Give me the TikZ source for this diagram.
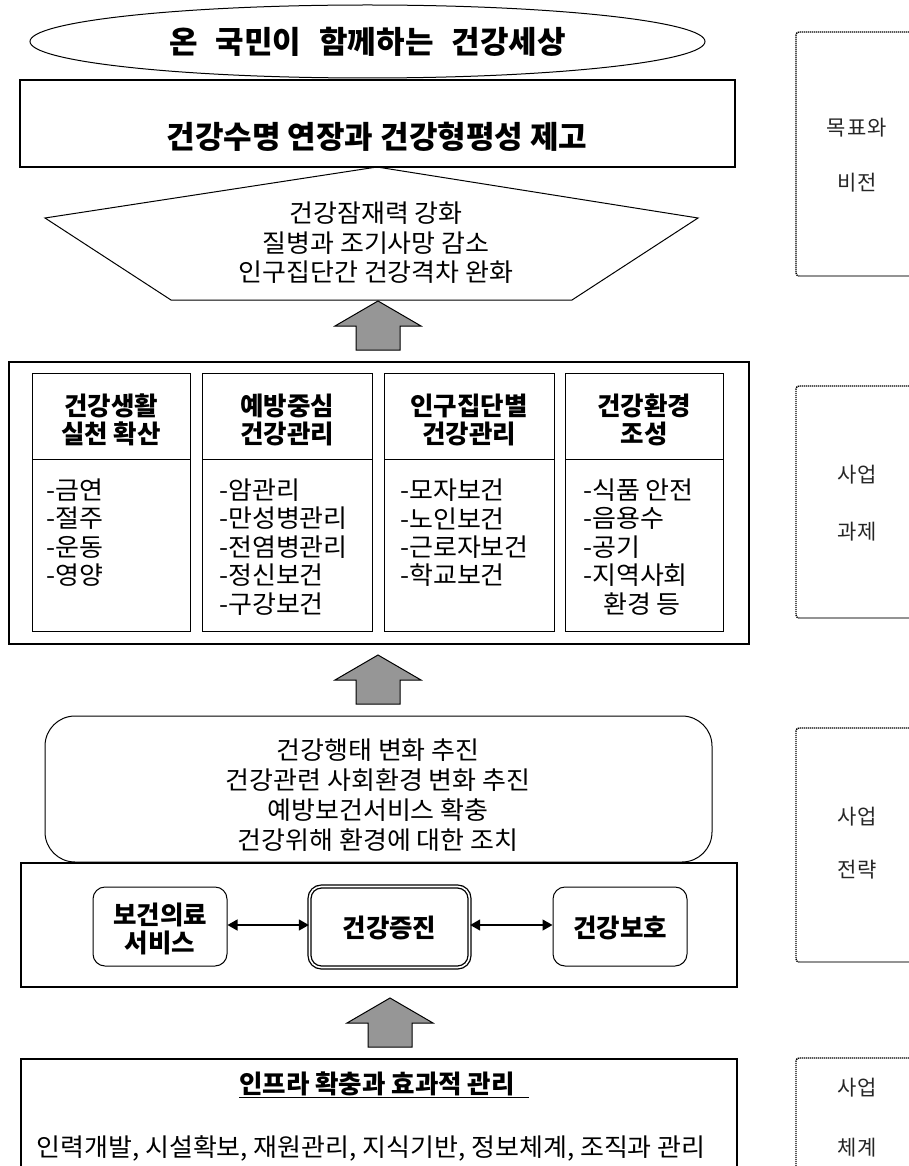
\documentclass[tikz,border=0pt]{standalone}
\usepackage{fontspec}
\setmainfont{Noto Sans CJK KR}
\newfontfamily\bodyfont[FakeStretch=1.04]{Noto Sans CJK KR}
\newfontfamily\sidefont[LetterSpace=6]{Noto Sans CJK KR}
\usetikzlibrary{shapes.geometric,arrows.meta}
\definecolor{arrowgray}{RGB}{150,150,150}
\begin{document}
\begin{tikzpicture}[x=1pt,y=-1pt,
  thickbox/.style={draw, line width=2pt},
  colbox/.style={draw, line width=1.3pt, anchor=north west, inner sep=0pt},
  body/.style={font=\bodyfont\fontsize{25}{29}\selectfont, inner sep=0pt},
  item/.style={font=\bodyfont\fontsize{25}{28}\selectfont, inner sep=0pt, anchor=west},
  head/.style={font=\fontsize{25.5}{28}\selectfont\bfseries, align=center, inner sep=0pt},
  side/.style={font=\sidefont\fontsize{21}{24}\selectfont, text=black!85, inner sep=0pt},
  sidebox/.style={draw, line width=1.4pt, dash pattern=on 1.2pt off 0.8pt, rounded corners=3pt},
  rbox/.style={draw, line width=1pt, rounded corners=12pt, minimum width=134pt, minimum height=79pt, inner sep=0pt},
  bothtip/.style={{Triangle[length=10pt,width=11pt]}-{Triangle[length=10pt,width=11pt]}, line width=1.3pt},
  uparrow/.pic={\draw[line width=1pt, fill=arrowgray, line join=miter] (0,0) -- (43,25) -- (22,25) -- (22,49) -- (-22,49) -- (-22,25) -- (-43,25) -- cycle;}
]
\clip (0,0) rectangle (909,1166);

% ---------- vision ----------
\node[ellipse, draw, line width=1pt, minimum width=675pt, minimum height=73pt,
      font=\fontsize{31}{34}\selectfont\bfseries] (vision) at (367.5,41.5)
      {온\hspace{18pt}국민이\hspace{18pt}함께하는\hspace{18pt}건강세상};

\node[thickbox, minimum width=715pt, minimum height=87pt] (goal) at (377.5,123.5) {};
\node[font=\fontsize{31}{34}\selectfont\bfseries, inner sep=0pt] (goaltxt) at (377,137) {건강수명 연장과 건강형평성 제고};

\draw[line width=1pt] (377,167) coordinate (apex) -- (698,218) -- (572,300) -- (171,300) -- (45,218) -- cycle;
\node[body] (g1) at (376,213) {건강잠재력 강화};
\node[body] (g2) at (376,243) {질병과 조기사망 감소};
\node[body] (g3) at (376,272) {인구집단간 건강격차 완화};

\pic (arrA) at (378,301) {uparrow};

% ---------- tasks ----------
\node[thickbox, anchor=north west, minimum width=740pt, minimum height=282pt, inner sep=0pt] (tasks) at (8,361) {};

\node[colbox, minimum width=158pt, minimum height=86pt] (c1h) at (32,373) {};
\node[colbox, minimum width=158pt, minimum height=172pt] (c1b) at (32,459) {};
\node[colbox, minimum width=170pt, minimum height=86pt] (c2h) at (202,373) {};
\node[colbox, minimum width=170pt, minimum height=172pt] (c2b) at (202,459) {};
\node[colbox, minimum width=170pt, minimum height=86pt] (c3h) at (384,373) {};
\node[colbox, minimum width=170pt, minimum height=172pt] (c3b) at (384,459) {};
\node[colbox, minimum width=158pt, minimum height=86pt] (c4h) at (565,373) {};
\node[colbox, minimum width=158pt, minimum height=172pt] (c4b) at (565,459) {};

\node[head] (t1) at (111,420) {건강생활\\실천 확산};
\node[head] (t2) at (287,420) {예방중심\\건강관리};
\node[head] (t3) at (469,420) {인구집단별\\건강관리};
\node[head] (t4) at (644,420) {건강환경\\조성};

\node[item] (a1) at (46,490) {-금연};
\node[item] (a2) at (46,518.5) {-절주};
\node[item] (a3) at (46,547) {-운동};
\node[item] (a4) at (46,575.5) {-영양};

\node[item] (b1) at (219,490) {-암관리};
\node[item] (b2) at (219,518.5) {-만성병관리};
\node[item] (b3) at (219,547) {-전염병관리};
\node[item] (b4) at (219,575.5) {-정신보건};
\node[item] (b5) at (219,604) {-구강보건};

\node[item] (d1) at (400,490) {-모자보건};
\node[item] (d2) at (400,518.5) {-노인보건};
\node[item] (d3) at (400,547) {-근로자보건};
\node[item] (d4) at (400,575.5) {-학교보건};

\node[item] (e1) at (583,490) {-식품 안전};
\node[item] (e2) at (583,518.5) {-음용수};
\node[item] (e3) at (583,547) {-공기};
\node[item] (e4) at (583,575.5) {-지역사회};
\node[item] (e5) at (603,604) {환경 등};

\pic (arrB) at (378,655) {uparrow};

% ---------- strategies ----------
\draw[line width=1pt, rounded corners=30pt] (45,716) rectangle (712,862);
\node[body] (s1) at (378,750) {건강행태 변화 추진};
\node[body] (s2) at (378,780) {건강관련 사회환경 변화 추진};
\node[body] (s3) at (378,810) {예방보건서비스 확충};
\node[body] (s4) at (378,840) {건강위해 환경에 대한 조치};

\node[thickbox, anchor=north west, minimum width=716pt, minimum height=124pt, inner sep=0pt] (strat) at (20,862) {};

\node[rbox] (svc) at (160,926.5) {};
\node[head] (svct) at (160,929) {보건의료\\서비스};
\node[draw, double, double distance=1.6pt, line width=1.3pt, rounded corners=12pt,
      minimum width=160pt, minimum height=81pt, inner sep=0pt] (prom) at (389.5,927) {};
\node[head] (promt) at (389.5,928) {건강증진};
\node[rbox] (prot) at (620,926.5) {};
\node[head] (prott) at (620,928) {건강보호};

\draw[bothtip] (svc.east |- 0,925) -- (prom.west |- 0,925);
\draw[bothtip] (prom.east |- 0,925) -- (prot.west |- 0,925);

\pic (arrC) at (390,998) {uparrow};

% ---------- infrastructure ----------
\node[thickbox, anchor=north west, minimum width=716pt, minimum height=150pt, inner sep=0pt] (infra) at (20,1058) {};
\node[head] (inft) at (384,1085) {\underline{인프라 확충과 효과적 관리\hspace{14pt}}};
\node[body] (infb) at (371,1148) {인력개발, 시설확보, 재원관리, 지식기반, 정보체계, 조직과 관리};

% ---------- side labels ----------
\draw[sidebox] (796,32) rectangle (940,276);
\node[side] (l1a) at (857,128) {목표와};
\node[side] (l1b) at (857,183) {비전};

\draw[sidebox] (796,386) rectangle (940,618);
\node[side] (l2a) at (857,475) {사업};
\node[side] (l2b) at (857,532) {과제};

\draw[sidebox] (796,728) rectangle (940,962);
\node[side] (l3a) at (857,817) {사업};
\node[side] (l3b) at (857,870) {전략};

\draw[sidebox] (796,1058) rectangle (940,1200);
\node[side] (l4a) at (857,1088) {사업};
\node[side] (l4b) at (857,1148) {체계};
\end{tikzpicture}
\end{document}
